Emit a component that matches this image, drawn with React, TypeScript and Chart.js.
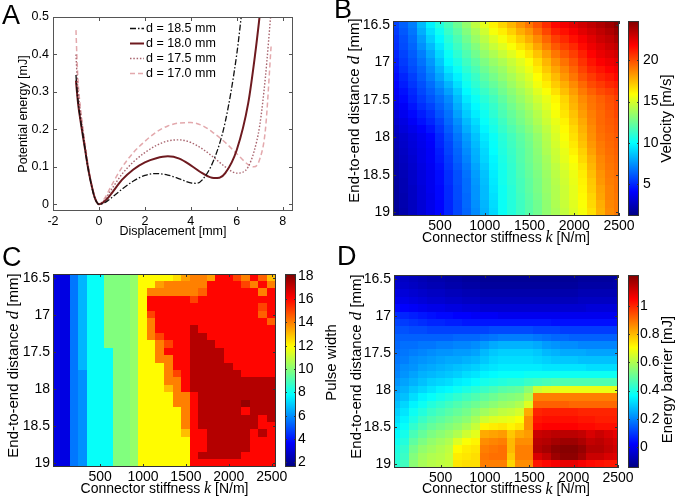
import React, { useEffect, useRef } from "react";
import { Chart, registerables } from "chart.js";

Chart.register(...registerables);

const SANS = "'Liberation Sans', Arial, Helvetica, sans-serif";
const SERIF = "'Liberation Serif', 'DejaVu Serif', 'Times New Roman', serif";

// ---------------- Panel A: potential energy curves ----------------
const A_X_TICKS = [-2, 0, 2, 4, 6, 8];
const A_Y_TICKS = [0, 0.1, 0.2, 0.3, 0.4, 0.5];
const A_LABELS = ["d = 18.5 mm", "d = 18.0 mm", "d = 17.5 mm", "d = 17.0 mm"];
const A_COLORS = ["#111111", "#6e1a1f", "#a8646e", "#e3a9ad"];

const A_X_185 = [-1.0, -0.95, -0.9, -0.8, -0.7, -0.6, -0.5, -0.4, -0.3, -0.2, -0.1, 0, 0.25, 0.5, 1.0, 1.5, 2.0, 2.5, 3.0, 3.5, 4.0, 4.25, 4.5, 5.0, 5.5, 6.0, 6.25];
const A_Y_185 = [0.345, 0.3, 0.27, 0.225, 0.185, 0.145, 0.105, 0.072, 0.043, 0.02, 0.006, 0, 0.004, 0.015, 0.04, 0.062, 0.077, 0.082, 0.078, 0.068, 0.057, 0.056, 0.065, 0.118, 0.22, 0.4, 0.53];

const A_X_180 = [-1.0, -0.95, -0.9, -0.8, -0.7, -0.6, -0.5, -0.4, -0.3, -0.2, -0.1, 0, 0.25, 0.5, 1.0, 1.5, 2.0, 2.5, 3.0, 3.5, 4.0, 4.5, 5.0, 5.25, 5.5, 6.0, 6.5, 6.8, 7.05];
const A_Y_180 = [0.33, 0.295, 0.265, 0.222, 0.183, 0.145, 0.106, 0.073, 0.045, 0.021, 0.006, 0, 0.008, 0.025, 0.065, 0.093, 0.112, 0.123, 0.128, 0.122, 0.104, 0.083, 0.07, 0.071, 0.083, 0.145, 0.27, 0.4, 0.53];

const A_X_175 = [-1.0, -0.95, -0.9, -0.8, -0.7, -0.6, -0.5, -0.4, -0.3, -0.2, -0.1, 0, 0.25, 0.5, 1.0, 1.5, 2.0, 2.5, 3.0, 3.5, 4.0, 4.5, 5.0, 5.5, 6.0, 6.25, 6.5, 6.75, 7.0, 7.25, 7.5];
const A_Y_175 = [0.4, 0.34, 0.3, 0.243, 0.197, 0.154, 0.112, 0.076, 0.046, 0.022, 0.006, 0, 0.012, 0.035, 0.08, 0.113, 0.138, 0.157, 0.169, 0.172, 0.165, 0.148, 0.125, 0.1, 0.083, 0.085, 0.1, 0.14, 0.21, 0.34, 0.52];

const A_X_170 = [-1.0, -0.95, -0.9, -0.8, -0.7, -0.6, -0.5, -0.4, -0.3, -0.2, -0.1, 0, 0.25, 0.5, 1.0, 1.5, 2.0, 2.5, 3.0, 3.5, 4.0, 4.5, 5.0, 5.5, 6.0, 6.5, 6.75, 7.0, 7.25, 7.5];
const A_Y_170 = [0.465, 0.38, 0.32, 0.255, 0.205, 0.16, 0.116, 0.079, 0.048, 0.023, 0.006, 0, 0.016, 0.045, 0.098, 0.138, 0.168, 0.193, 0.209, 0.217, 0.218, 0.21, 0.19, 0.165, 0.135, 0.106, 0.1, 0.12, 0.2, 0.425];

// ---------------- Heat maps (B, C, D) ----------------
const K_COLS = [0, 100, 200, 300, 400, 500, 600, 700, 800, 900, 1000, 1100, 1200, 1300, 1400, 1500, 1600, 1700, 1800, 1900, 2000, 2100, 2200, 2300, 2400, 2500];
const D_ROWS = [16.5, 16.6, 16.7, 16.8, 16.9, 17.0, 17.1, 17.2, 17.3, 17.4, 17.5, 17.6, 17.7, 17.8, 17.9, 18.0, 18.1, 18.2, 18.3, 18.4, 18.5, 18.6, 18.7, 18.8, 18.9, 19.0];
const K_TICKS = [500, 1000, 1500, 2000, 2500];
const D_TICKS = [16.5, 17, 17.5, 18, 18.5, 19];

const B_CB_TICKS = [5, 10, 15, 20];
const C_CB_TICKS = [2, 4, 6, 8, 10, 12, 14, 16, 18];
const D_CB_TICKS = [0, 0.2, 0.4, 0.6, 0.8, 1];

// Velocity [m/s]
const B_VELOCITY = [
  [5.6, 6.3, 7.0, 8.4, 9.7, 10.7, 11.6, 12.5, 13.4, 14.4, 15.3, 16.2, 16.9, 17.6, 18.4, 19.1, 19.9, 20.8, 21.7, 22.1, 22.5, 22.9, 23.3, 23.7, 24.1, 24.6],
  [5.4, 6.1, 6.8, 8.1, 9.3, 10.3, 11.3, 12.1, 13.0, 13.9, 14.8, 15.7, 16.3, 17.0, 17.8, 18.4, 19.3, 20.2, 21.1, 21.5, 22.0, 22.5, 22.9, 23.3, 23.7, 24.2],
  [5.2, 5.9, 6.6, 7.7, 8.9, 9.9, 10.9, 11.7, 12.6, 13.5, 14.3, 15.1, 15.7, 16.4, 17.1, 17.8, 18.6, 19.5, 20.4, 20.9, 21.5, 22.0, 22.5, 23.0, 23.3, 23.8],
  [5.1, 5.8, 6.4, 7.4, 8.4, 9.5, 10.6, 11.4, 12.2, 13.0, 13.9, 14.6, 15.2, 15.8, 16.5, 17.1, 18.0, 18.9, 19.8, 20.4, 20.9, 21.6, 22.2, 22.6, 23.0, 23.3],
  [4.9, 5.6, 6.2, 7.0, 8.0, 9.1, 10.2, 11.0, 11.8, 12.6, 13.4, 14.0, 14.6, 15.2, 15.8, 16.5, 17.3, 18.2, 19.1, 19.8, 20.4, 21.1, 21.8, 22.3, 22.6, 22.9],
  [4.7, 5.4, 6.0, 6.7, 7.6, 8.7, 9.9, 10.6, 11.4, 12.1, 12.9, 13.5, 14.0, 14.6, 15.2, 15.8, 16.7, 17.6, 18.5, 19.2, 19.9, 20.7, 21.4, 21.9, 22.2, 22.5],
  [4.5, 5.2, 5.8, 6.4, 7.3, 8.3, 9.4, 10.2, 11.0, 11.7, 12.5, 13.1, 13.6, 14.3, 14.9, 15.5, 16.3, 17.2, 18.0, 18.7, 19.5, 20.3, 21.0, 21.4, 21.8, 22.1],
  [4.3, 4.9, 5.5, 6.2, 7.0, 7.9, 8.9, 9.7, 10.6, 11.3, 12.1, 12.7, 13.3, 13.9, 14.5, 15.1, 15.9, 16.7, 17.5, 18.3, 19.1, 19.9, 20.5, 21.0, 21.3, 21.7],
  [4.1, 4.7, 5.3, 5.9, 6.6, 7.4, 8.3, 9.3, 10.3, 11.0, 11.7, 12.3, 12.9, 13.6, 14.2, 14.8, 15.6, 16.3, 17.1, 17.8, 18.6, 19.4, 20.1, 20.5, 20.9, 21.2],
  [3.9, 4.4, 5.0, 5.7, 6.3, 7.0, 7.8, 8.8, 9.9, 10.6, 11.3, 11.9, 12.6, 13.2, 13.8, 14.4, 15.2, 15.8, 16.6, 17.4, 18.2, 19.0, 19.6, 20.1, 20.4, 20.8],
  [3.7, 4.2, 4.8, 5.4, 6.0, 6.6, 7.3, 8.4, 9.5, 10.2, 10.9, 11.5, 12.2, 12.9, 13.5, 14.1, 14.8, 15.4, 16.1, 16.9, 17.8, 18.6, 19.2, 19.6, 20.0, 20.4],
  [3.5, 3.9, 4.5, 5.1, 5.6, 6.3, 7.0, 8.1, 9.1, 9.9, 10.6, 11.2, 11.9, 12.6, 13.2, 13.8, 14.5, 15.2, 15.9, 16.7, 17.6, 18.4, 19.1, 19.5, 19.9, 20.3],
  [3.2, 3.7, 4.2, 4.7, 5.2, 6.0, 6.7, 7.8, 8.8, 9.6, 10.3, 11.0, 11.7, 12.3, 12.9, 13.5, 14.2, 14.9, 15.7, 16.5, 17.3, 18.2, 18.9, 19.4, 19.8, 20.2],
  [3.0, 3.4, 3.9, 4.4, 4.9, 5.6, 6.5, 7.4, 8.4, 9.2, 10.1, 10.7, 11.4, 12.1, 12.7, 13.3, 14.0, 14.7, 15.4, 16.2, 17.1, 17.9, 18.8, 19.4, 19.7, 20.0],
  [2.7, 3.2, 3.6, 4.0, 4.5, 5.3, 6.2, 7.1, 8.1, 8.9, 9.8, 10.5, 11.2, 11.8, 12.4, 13.0, 13.7, 14.4, 15.2, 16.0, 16.8, 17.7, 18.6, 19.3, 19.6, 19.9],
  [2.5, 2.9, 3.3, 3.7, 4.1, 5.0, 5.9, 6.8, 7.7, 8.6, 9.5, 10.2, 10.9, 11.5, 12.1, 12.7, 13.4, 14.2, 15.0, 15.8, 16.6, 17.5, 18.5, 19.2, 19.5, 19.8],
  [2.4, 2.8, 3.2, 3.6, 4.0, 4.9, 5.7, 6.6, 7.5, 8.4, 9.3, 10.1, 10.8, 11.4, 12.0, 12.6, 13.3, 14.1, 14.9, 15.6, 16.4, 17.3, 18.3, 19.0, 19.4, 19.7],
  [2.3, 2.7, 3.1, 3.5, 3.9, 4.7, 5.6, 6.4, 7.3, 8.2, 9.1, 10.0, 10.7, 11.3, 11.9, 12.5, 13.2, 14.0, 14.7, 15.4, 16.2, 17.0, 18.1, 18.9, 19.3, 19.6],
  [2.2, 2.6, 3.0, 3.5, 3.9, 4.6, 5.4, 6.3, 7.1, 8.1, 9.0, 9.8, 10.6, 11.2, 11.9, 12.5, 13.1, 13.8, 14.6, 15.3, 15.9, 16.8, 17.8, 18.7, 19.2, 19.5],
  [2.1, 2.5, 2.9, 3.4, 3.8, 4.4, 5.3, 6.1, 6.9, 7.9, 8.8, 9.7, 10.5, 11.1, 11.8, 12.4, 13.0, 13.7, 14.4, 15.1, 15.7, 16.5, 17.6, 18.6, 19.1, 19.4],
  [2.0, 2.4, 2.8, 3.3, 3.7, 4.3, 5.1, 5.9, 6.7, 7.7, 8.6, 9.6, 10.4, 11.0, 11.7, 12.3, 12.9, 13.6, 14.3, 14.9, 15.5, 16.3, 17.4, 18.4, 19.0, 19.3],
  [1.9, 2.3, 2.8, 3.3, 3.7, 4.3, 5.1, 5.9, 6.6, 7.6, 8.5, 9.5, 10.4, 11.0, 11.6, 12.2, 12.8, 13.5, 14.2, 14.8, 15.4, 16.2, 17.2, 18.3, 18.9, 19.2],
  [1.8, 2.3, 2.7, 3.2, 3.7, 4.2, 5.0, 5.8, 6.6, 7.5, 8.4, 9.4, 10.3, 10.9, 11.6, 12.2, 12.8, 13.5, 14.1, 14.7, 15.3, 16.1, 17.1, 18.1, 18.8, 19.2],
  [1.8, 2.2, 2.7, 3.2, 3.6, 4.2, 5.0, 5.8, 6.5, 7.5, 8.4, 9.3, 10.3, 10.9, 11.5, 12.1, 12.7, 13.4, 14.1, 14.7, 15.3, 16.0, 16.9, 18.0, 18.8, 19.1],
  [1.7, 2.2, 2.6, 3.1, 3.6, 4.1, 4.9, 5.7, 6.5, 7.4, 8.3, 9.2, 10.2, 10.8, 11.4, 12.0, 12.6, 13.3, 14.0, 14.6, 15.2, 15.8, 16.8, 17.8, 18.7, 19.0],
  [1.6, 2.1, 2.6, 3.1, 3.6, 4.1, 4.9, 5.7, 6.4, 7.3, 8.2, 9.1, 10.2, 10.8, 11.4, 12.0, 12.6, 13.3, 13.9, 14.5, 15.1, 15.7, 16.6, 17.7, 18.6, 19.0],
];

// Pulse width
const C_PULSE = [
  [3.2, 3.2, 5.6, 6.6, 7.9, 7.9, 9.9, 9.9, 9.9, 10.2, 12, 12, 12, 12, 12.5, 13.5, 14, 14, 13.5, 16, 16, 15, 14, 16, 14.5, 13],
  [3.2, 3.2, 5.6, 6.6, 7.9, 7.9, 9.9, 9.9, 9.9, 10.2, 12, 12, 13.5, 14, 14, 14, 14, 14, 16, 16, 16, 16, 15, 14, 16, 14],
  [3.2, 3.2, 5.6, 6.6, 7.9, 7.9, 9.9, 9.9, 9.9, 10.2, 12, 14, 14, 14, 14, 14, 14, 14.5, 16, 16, 16, 16, 16, 16, 14, 16],
  [3.2, 3.2, 5.6, 6.6, 7.9, 7.9, 9.9, 9.9, 9.9, 10.2, 12, 16, 16, 16, 16, 16, 15, 16, 16, 16, 16, 16, 16, 16, 16, 16],
  [3.2, 3.2, 5.6, 6.6, 7.9, 7.9, 9.9, 9.9, 9.9, 10.2, 12, 16, 16, 16, 16, 16, 16, 16, 16, 16, 16, 16, 16, 16, 15, 16],
  [3.2, 3.2, 5.6, 6.6, 7.9, 7.9, 9.9, 9.9, 9.9, 10.2, 12, 15, 16, 16, 16, 16, 16, 16, 16, 16, 16, 16, 16, 16, 14.5, 16],
  [3.2, 3.2, 5.6, 6.6, 7.9, 7.9, 9.9, 9.9, 9.9, 10.2, 12, 14, 16, 16, 16, 16, 16, 16, 16, 16, 16, 16, 16, 16, 16, 14.5],
  [3.2, 3.2, 5.6, 6.6, 7.9, 7.9, 9.9, 9.9, 9.9, 10.2, 12, 14, 16, 16, 16, 16, 17.3, 16, 16, 16, 16, 16, 16, 16, 16, 16],
  [3.2, 3.2, 5.6, 6.6, 7.9, 7.9, 9.9, 9.9, 9.9, 10.2, 12, 14, 15, 16, 16, 16, 17.3, 17.3, 16, 16, 16, 16, 16, 16, 16, 16],
  [3.2, 3.2, 5.6, 6.6, 7.9, 7.9, 9.9, 9.9, 9.9, 10.2, 12, 12, 14, 15, 16, 16, 17.3, 17.3, 17.3, 16, 16, 16, 16, 16, 16, 16],
  [3.2, 3.2, 5.6, 6.6, 7.9, 7.9, 7.9, 9.9, 9.9, 10.2, 12, 12, 14, 16, 16, 16, 17.3, 17.3, 17.3, 17.3, 16, 16, 16, 16, 16, 16],
  [3.2, 3.2, 5.6, 6.6, 7.9, 7.9, 7.9, 9.9, 9.9, 10.2, 12, 12, 14, 14, 16, 16, 17.3, 17.3, 17.3, 17.3, 16, 16, 16, 16, 16, 16],
  [3.2, 3.2, 5.6, 6.6, 7.9, 7.9, 7.9, 9.9, 9.9, 10.2, 12, 12, 12, 14, 16, 16, 17.3, 17.3, 17.3, 17.3, 17.3, 16, 16, 16, 16, 16],
  [3.2, 3.2, 5.6, 6.0, 7.9, 7.9, 7.9, 9.9, 9.9, 10.2, 12, 12, 12, 14, 15, 16, 17.3, 17.3, 17.3, 17.3, 17.3, 17.3, 16, 16, 16, 16],
  [3.2, 3.2, 5.6, 6.0, 7.9, 7.9, 7.9, 9.9, 9.9, 10.2, 12, 12, 12, 14, 14, 16, 17.3, 17.3, 17.3, 17.3, 17.3, 17.3, 17.3, 17.3, 17.3, 17.3],
  [3.2, 3.2, 5.6, 6.0, 7.9, 7.9, 7.9, 9.9, 9.9, 10.2, 12, 12, 12, 13, 14, 16, 17.3, 17.3, 17.3, 17.3, 17.3, 17.3, 17.3, 17.3, 17.3, 17.3],
  [3.2, 3.2, 5.6, 6.0, 7.9, 7.9, 7.9, 9.9, 9.9, 10.2, 12, 12, 12, 12, 14, 14, 16, 17.3, 17.3, 17.3, 17.3, 17.3, 17.3, 17.3, 17.3, 17.3],
  [3.2, 3.2, 5.6, 6.0, 7.9, 7.9, 7.9, 9.9, 9.9, 10.2, 12, 12, 12, 12, 14, 14, 16, 17.3, 17.3, 17.3, 17.3, 17.3, 17.8, 17.3, 17.3, 17.3],
  [3.2, 3.2, 5.6, 6.0, 7.9, 7.9, 7.9, 9.9, 9.9, 10.2, 12, 12, 12, 12, 12, 14, 16, 17.3, 17.3, 17.3, 17.3, 17.3, 16, 17.3, 17.3, 17.3],
  [3.2, 3.2, 5.6, 6.0, 7.9, 7.9, 7.9, 9.9, 9.9, 10.2, 12, 12, 12, 12, 12, 14, 16, 17.3, 17.3, 17.3, 17.3, 17.3, 17.3, 17.3, 16, 17.3],
  [3.2, 3.2, 5.6, 6.0, 7.9, 7.9, 7.9, 9.9, 9.9, 10.2, 12, 12, 12, 12, 12, 14, 16, 17.3, 17.3, 17.3, 17.3, 17.3, 17.3, 17.3, 16, 16],
  [3.2, 3.2, 5.6, 6.0, 7.9, 7.9, 7.9, 9.9, 9.9, 10.2, 12, 12, 12, 12, 12, 13, 16, 16, 17.3, 17.3, 17.3, 17.3, 17.3, 16, 17.3, 16],
  [3.2, 3.2, 5.6, 6.0, 7.9, 7.9, 7.9, 9.9, 9.9, 10.2, 12, 12, 12, 12, 12, 12, 16, 16, 17.3, 17.3, 17.3, 17.3, 17.3, 16, 16, 16],
  [3.2, 3.2, 5.6, 6.0, 7.9, 7.9, 7.9, 9.9, 9.9, 10.2, 12, 12, 12, 12, 12, 12, 16, 16, 17.3, 17.3, 17.3, 17.3, 17.3, 16, 16, 16],
  [3.2, 3.2, 5.6, 6.0, 7.9, 7.9, 7.9, 9.9, 9.9, 10.2, 12, 12, 12, 12, 12, 12, 16, 17.3, 17.3, 17.3, 17.3, 17.3, 16, 16, 16, 16],
  [3.2, 3.2, 5.6, 6.0, 7.9, 7.9, 7.9, 9.9, 9.9, 10.2, 12, 12, 12, 12, 12, 12, 16, 16, 16, 16, 16, 16, 16, 16, 16, 16],
];

// Energy barrier [mJ]
const D_BARRIER = [
  [-0.05, -0.06, -0.07, -0.08, -0.09, -0.09, -0.10, -0.10, -0.11, -0.11, -0.12, -0.12, -0.12, -0.12, -0.12, -0.12, -0.12, -0.12, -0.12, -0.12, -0.12, -0.11, -0.11, -0.11, -0.11, -0.10],
  [-0.04, -0.05, -0.06, -0.07, -0.08, -0.08, -0.09, -0.09, -0.10, -0.10, -0.11, -0.11, -0.11, -0.11, -0.11, -0.11, -0.11, -0.11, -0.11, -0.11, -0.11, -0.10, -0.10, -0.10, -0.10, -0.09],
  [-0.02, -0.03, -0.04, -0.05, -0.06, -0.06, -0.07, -0.07, -0.08, -0.08, -0.09, -0.09, -0.09, -0.09, -0.09, -0.09, -0.09, -0.09, -0.09, -0.09, -0.09, -0.08, -0.08, -0.08, -0.08, -0.08],
  [0.0, -0.01, -0.02, -0.03, -0.04, -0.04, -0.05, -0.05, -0.06, -0.06, -0.07, -0.07, -0.07, -0.07, -0.07, -0.07, -0.07, -0.07, -0.07, -0.07, -0.07, -0.06, -0.06, -0.06, -0.06, -0.06],
  [0.03, 0.02, 0.01, 0.0, -0.01, -0.01, -0.02, -0.02, -0.03, -0.03, -0.04, -0.04, -0.04, -0.04, -0.04, -0.04, -0.04, -0.04, -0.04, -0.04, -0.04, -0.04, -0.03, -0.03, -0.03, -0.03],
  [0.08, 0.07, 0.06, 0.05, 0.04, 0.03, 0.03, 0.02, 0.02, 0.01, 0.01, 0.01, 0.0, 0.0, 0.0, 0.0, 0.0, 0.0, 0.0, 0.0, 0.0, 0.0, 0.0, 0.0, 0.0, 0.0],
  [0.11, 0.10, 0.09, 0.08, 0.07, 0.07, 0.06, 0.06, 0.05, 0.05, 0.05, 0.05, 0.05, 0.05, 0.05, 0.05, 0.05, 0.05, 0.04, 0.04, 0.04, 0.04, 0.04, 0.04, 0.04, 0.04],
  [0.13, 0.13, 0.12, 0.12, 0.11, 0.11, 0.11, 0.11, 0.11, 0.11, 0.11, 0.12, 0.12, 0.12, 0.12, 0.12, 0.11, 0.11, 0.11, 0.10, 0.10, 0.10, 0.10, 0.10, 0.10, 0.10],
  [0.15, 0.15, 0.15, 0.15, 0.15, 0.15, 0.15, 0.16, 0.16, 0.16, 0.17, 0.18, 0.19, 0.19, 0.19, 0.19, 0.18, 0.17, 0.16, 0.16, 0.15, 0.15, 0.15, 0.15, 0.15, 0.15],
  [0.16, 0.17, 0.17, 0.18, 0.18, 0.19, 0.19, 0.20, 0.20, 0.21, 0.23, 0.25, 0.26, 0.26, 0.26, 0.26, 0.25, 0.23, 0.22, 0.21, 0.21, 0.20, 0.20, 0.20, 0.20, 0.20],
  [0.17, 0.18, 0.19, 0.20, 0.21, 0.22, 0.22, 0.23, 0.23, 0.24, 0.27, 0.29, 0.30, 0.30, 0.30, 0.30, 0.29, 0.27, 0.26, 0.25, 0.25, 0.25, 0.24, 0.24, 0.24, 0.24],
  [0.18, 0.19, 0.21, 0.22, 0.23, 0.24, 0.25, 0.25, 0.26, 0.27, 0.29, 0.31, 0.32, 0.32, 0.32, 0.32, 0.31, 0.30, 0.29, 0.29, 0.29, 0.28, 0.28, 0.28, 0.28, 0.28],
  [0.19, 0.21, 0.22, 0.24, 0.25, 0.26, 0.27, 0.28, 0.29, 0.30, 0.32, 0.33, 0.34, 0.34, 0.34, 0.34, 0.34, 0.33, 0.33, 0.33, 0.33, 0.33, 0.32, 0.32, 0.32, 0.32],
  [0.20, 0.22, 0.24, 0.26, 0.27, 0.28, 0.29, 0.30, 0.32, 0.33, 0.35, 0.36, 0.37, 0.37, 0.37, 0.38, 0.38, 0.38, 0.38, 0.38, 0.38, 0.38, 0.38, 0.38, 0.38, 0.38],
  [0.22, 0.24, 0.26, 0.28, 0.30, 0.31, 0.32, 0.34, 0.35, 0.37, 0.39, 0.40, 0.41, 0.42, 0.42, 0.44, 0.45, 0.46, 0.47, 0.47, 0.47, 0.47, 0.47, 0.47, 0.47, 0.47],
  [0.24, 0.26, 0.29, 0.31, 0.33, 0.35, 0.36, 0.38, 0.40, 0.42, 0.44, 0.46, 0.48, 0.49, 0.50, 0.55, 0.64, 0.66, 0.67, 0.68, 0.68, 0.68, 0.68, 0.68, 0.68, 0.68],
  [0.26, 0.28, 0.32, 0.35, 0.37, 0.39, 0.41, 0.43, 0.45, 0.47, 0.49, 0.51, 0.53, 0.54, 0.55, 0.60, 0.88, 0.88, 0.88, 0.88, 0.88, 0.88, 0.88, 0.88, 0.88, 0.88],
  [0.28, 0.31, 0.35, 0.38, 0.41, 0.43, 0.45, 0.47, 0.49, 0.51, 0.53, 0.55, 0.57, 0.58, 0.60, 0.66, 0.92, 0.92, 0.92, 0.92, 0.91, 0.91, 0.91, 0.91, 0.91, 0.91],
  [0.30, 0.33, 0.38, 0.41, 0.44, 0.46, 0.48, 0.50, 0.52, 0.55, 0.58, 0.60, 0.62, 0.63, 0.65, 0.82, 1.00, 1.01, 1.01, 1.01, 1.01, 1.00, 1.00, 1.00, 1.00, 1.00],
  [0.32, 0.35, 0.40, 0.44, 0.47, 0.49, 0.51, 0.53, 0.55, 0.59, 0.64, 0.66, 0.67, 0.68, 0.70, 0.86, 1.02, 1.03, 1.03, 1.03, 1.03, 1.02, 1.02, 1.01, 1.01, 1.01],
  [0.34, 0.37, 0.43, 0.47, 0.50, 0.52, 0.54, 0.56, 0.59, 0.63, 0.72, 0.73, 0.74, 0.72, 0.74, 0.86, 1.04, 1.05, 1.05, 1.05, 1.05, 1.04, 1.04, 1.03, 1.03, 1.03],
  [0.36, 0.39, 0.46, 0.50, 0.53, 0.55, 0.57, 0.60, 0.64, 0.67, 0.82, 0.83, 0.84, 0.78, 0.82, 0.84, 1.12, 1.13, 1.14, 1.14, 1.14, 1.13, 1.10, 1.12, 1.10, 1.08],
  [0.38, 0.41, 0.49, 0.53, 0.56, 0.58, 0.60, 0.66, 0.70, 0.72, 0.86, 0.87, 0.88, 0.80, 0.86, 0.86, 1.14, 1.15, 1.17, 1.18, 1.18, 1.16, 1.13, 1.14, 1.12, 1.10],
  [0.40, 0.43, 0.52, 0.56, 0.58, 0.60, 0.62, 0.71, 0.73, 0.74, 0.88, 0.89, 0.90, 0.80, 0.88, 0.88, 1.15, 1.17, 1.20, 1.21, 1.21, 1.19, 1.15, 1.15, 1.13, 1.11],
  [0.41, 0.44, 0.54, 0.58, 0.60, 0.61, 0.63, 0.73, 0.74, 0.75, 0.89, 0.90, 0.90, 0.78, 0.88, 0.88, 1.10, 1.13, 1.18, 1.20, 1.20, 1.17, 1.12, 1.12, 1.10, 1.09],
  [0.42, 0.45, 0.55, 0.59, 0.61, 0.62, 0.63, 0.74, 0.75, 0.75, 0.88, 0.88, 0.88, 0.76, 0.86, 0.86, 1.02, 1.04, 1.06, 1.08, 1.08, 1.06, 1.04, 1.03, 1.02, 1.02],
];

// ---------------- helpers ----------------
function jet(t: number): string {
  const tt = Math.max(0, Math.min(1, t));
  const c = (v: number) => Math.round(255 * Math.max(0, Math.min(1, v)));
  return `rgb(${c(1.5 - Math.abs(4 * tt - 3))},${c(1.5 - Math.abs(4 * tt - 2))},${c(1.5 - Math.abs(4 * tt - 1))})`;
}

type Seg = { t: string; f: string };
function drawRich(ctx: CanvasRenderingContext2D, segs: Seg[], cx: number, cy: number, rot: number) {
  ctx.save();
  ctx.translate(cx, cy);
  if (rot) ctx.rotate(rot);
  let total = 0;
  const widths = segs.map((s) => {
    ctx.font = s.f;
    const w = ctx.measureText(s.t).width;
    total += w;
    return w;
  });
  let x = -total / 2;
  ctx.textBaseline = "middle";
  ctx.textAlign = "left";
  ctx.fillStyle = "#000";
  segs.forEach((s, i) => {
    ctx.font = s.f;
    ctx.fillText(s.t, x, 0);
    x += widths[i];
  });
  ctx.restore();
}

const zeroPad = (sc: any) => {
  sc.paddingLeft = 0;
  sc.paddingRight = 0;
  sc.paddingTop = 0;
  sc.paddingBottom = 0;
};

// ---------------- Panel A builder ----------------
function buildA(canvas: HTMLCanvasElement) {
  const W = 340, H = 250;
  const L = 53, T = 17, R = 293, B = 211;
  const xs = [A_X_185, A_X_180, A_X_175, A_X_170];
  const ys = [A_Y_185, A_Y_180, A_Y_175, A_Y_170];
  const widths = [1.3, 2, 1.4, 1.5];
  const dashes = [[6, 2, 1.5, 2], [], [1.5, 1.8], [5, 3]];
  const datasets = A_LABELS.map((label, i) => ({
    label,
    data: xs[i].map((x, j) => ({ x, y: ys[i][j] })),
    showLine: true,
    borderColor: A_COLORS[i],
    backgroundColor: A_COLORS[i],
    borderWidth: widths[i],
    borderDash: dashes[i],
    pointRadius: 0,
    cubicInterpolationMode: "monotone",
    fill: false,
  }));
  const fontT = `12.5px ${SANS}`;
  const plugin = {
    id: "panelA",
    afterDraw(chart: any) {
      const { ctx, chartArea: a, scales } = chart;
      ctx.save();
      ctx.strokeStyle = "#555";
      ctx.lineWidth = 1;
      ctx.strokeRect(a.left + 0.5, a.top + 0.5, a.right - a.left - 1, a.bottom - a.top - 1);
      ctx.beginPath();
      A_X_TICKS.forEach((v) => {
        const x = Math.round(scales.x.getPixelForValue(v)) + 0.5;
        ctx.moveTo(x, a.bottom); ctx.lineTo(x, a.bottom - 4);
        ctx.moveTo(x, a.top); ctx.lineTo(x, a.top + 4);
      });
      A_Y_TICKS.forEach((v) => {
        const y = Math.round(scales.y.getPixelForValue(v)) + 0.5;
        ctx.moveTo(a.left, y); ctx.lineTo(a.left + 4, y);
        ctx.moveTo(a.right, y); ctx.lineTo(a.right - 4, y);
      });
      ctx.stroke();
      chart.data.datasets.forEach((ds: any, i: number) => {
        const y = 28.5 + 15 * i;
        ctx.beginPath();
        ctx.strokeStyle = ds.borderColor;
        ctx.lineWidth = ds.borderWidth;
        ctx.setLineDash(ds.borderDash || []);
        ctx.moveTo(130, y); ctx.lineTo(144, y);
        ctx.stroke();
        ctx.setLineDash([]);
        ctx.fillStyle = "#000";
        ctx.font = fontT;
        ctx.textBaseline = "middle";
        ctx.textAlign = "left";
        ctx.fillText(ds.label, 146, y);
      });
      ctx.restore();
      drawRich(ctx, [{ t: "Potential energy [mJ]", f: fontT }], 24, (a.top + a.bottom) / 2, -Math.PI / 2);
      drawRich(ctx, [{ t: "Displacement [mm]", f: fontT }], (a.left + a.right) / 2, 232, 0);
    },
  };
  const tickFont = { family: SANS, size: 12.5 };
  return new Chart(canvas, {
    type: "scatter",
    data: { datasets },
    options: {
      responsive: false,
      animation: false,
      events: [],
      layout: { padding: { left: 0, top: T, right: W - R, bottom: 0 } },
      plugins: { legend: { display: false }, tooltip: { enabled: false } },
      scales: {
        x: {
          type: "linear", min: -2, max: 8.45,
          grid: { display: false, drawTicks: false }, border: { display: false },
          ticks: { font: tickFont, color: "#000", padding: 3, maxRotation: 0, minRotation: 0, autoSkip: false, callback: (v: any) => String(v) },
          afterBuildTicks: (sc: any) => { sc.ticks = A_X_TICKS.map((v) => ({ value: v })); },
          afterFit: (sc: any) => { sc.height = H - B; zeroPad(sc); },
        },
        y: {
          type: "linear", min: -0.018, max: 0.5,
          grid: { display: false, drawTicks: false }, border: { display: false },
          ticks: { font: tickFont, color: "#000", padding: 4, autoSkip: false, callback: (v: any) => String(v) },
          afterBuildTicks: (sc: any) => { sc.ticks = A_Y_TICKS.map((v) => ({ value: v })); },
          afterFit: (sc: any) => { sc.width = L; zeroPad(sc); },
        },
      },
    },
    plugins: [plugin],
  } as any);
}

// ---------------- Heat map builder ----------------
type HeatSpec = {
  values: number[][];
  xMin: number; xMax: number;
  cMin: number; cMax: number; cTicks: number[]; cbTitle: string;
  w: number; h: number; area: number[];
  cbGap: number; cbWidth: number; cbPad: number;
  yTitleX: number; yTitleDy: number; xTitleY: number; cbTitleX: number; cbTitleDy: number;
};

function buildHeat(canvas: HTMLCanvasElement, s: HeatSpec) {
  const [L, T, R, B] = s.area;
  const tickFont = { family: SANS, size: 14 };
  const fH = `14px ${SANS}`;
  const fV = `15px ${SANS}`;
  const fHi = `italic 16px ${SERIF}`;
  const fVi = `italic 17px ${SERIF}`;
  const norm = (v: number) => (v - s.cMin) / (s.cMax - s.cMin);
  const plugin = {
    id: "heat",
    beforeDatasetsDraw(chart: any) {
      const { ctx, chartArea: a, scales } = chart;
      const xs = scales.x, ys = scales.y, cs = scales.cb;
      const hk = (K_COLS[1] - K_COLS[0]) / 2;
      const hd = (D_ROWS[1] - D_ROWS[0]) / 2;
      ctx.save();
      ctx.beginPath();
      ctx.rect(a.left, a.top, a.right - a.left, a.bottom - a.top);
      ctx.clip();
      D_ROWS.forEach((d, j) => {
        const yA = ys.getPixelForValue(d - hd), yB = ys.getPixelForValue(d + hd);
        K_COLS.forEach((k, i) => {
          const xA = xs.getPixelForValue(k - hk), xB = xs.getPixelForValue(k + hk);
          ctx.fillStyle = jet(norm(s.values[j][i]));
          const x0 = Math.floor(Math.min(xA, xB)), y0 = Math.floor(Math.min(yA, yB));
          ctx.fillRect(x0, y0, Math.ceil(Math.max(xA, xB)) - x0 + 1, Math.ceil(Math.max(yA, yB)) - y0 + 1);
        });
      });
      ctx.restore();
      const bx = a.right + s.cbGap;
      for (let py = Math.floor(cs.top); py < cs.bottom; py += 1) {
        ctx.fillStyle = jet(norm(cs.getValueForPixel(py + 0.5)));
        ctx.fillRect(bx, py, s.cbWidth, 1);
      }
    },
    afterDraw(chart: any) {
      const { ctx, chartArea: a, scales } = chart;
      ctx.save();
      ctx.strokeStyle = "#333";
      ctx.lineWidth = 1;
      ctx.strokeRect(a.left + 0.5, a.top + 0.5, a.right - a.left - 1, a.bottom - a.top - 1);
      ctx.beginPath();
      K_TICKS.forEach((v) => {
        const x = Math.round(scales.x.getPixelForValue(v)) + 0.5;
        ctx.moveTo(x, a.bottom); ctx.lineTo(x, a.bottom - 3);
        ctx.moveTo(x, a.top); ctx.lineTo(x, a.top + 3);
      });
      D_TICKS.forEach((v) => {
        const y = Math.round(scales.y.getPixelForValue(v)) + 0.5;
        ctx.moveTo(a.left, y); ctx.lineTo(a.left + 3, y);
        ctx.moveTo(a.right, y); ctx.lineTo(a.right - 3, y);
      });
      ctx.stroke();
      const bx = a.right + s.cbGap;
      ctx.strokeRect(bx + 0.5, a.top + 0.5, s.cbWidth - 1, a.bottom - a.top - 1);
      ctx.beginPath();
      s.cTicks.forEach((v) => {
        const y = Math.round(scales.cb.getPixelForValue(v)) + 0.5;
        ctx.moveTo(bx, y); ctx.lineTo(bx + 2, y);
        ctx.moveTo(bx + s.cbWidth, y); ctx.lineTo(bx + s.cbWidth - 2, y);
      });
      ctx.stroke();
      ctx.restore();
      const cy = (a.top + a.bottom) / 2;
      drawRich(ctx, [{ t: "End-to-end distance ", f: fV }, { t: "d", f: fVi }, { t: " [mm]", f: fV }], s.yTitleX, cy + s.yTitleDy, -Math.PI / 2);
      drawRich(ctx, [{ t: "Connector stiffness ", f: fH }, { t: "k", f: fHi }, { t: " [N/m]", f: fH }], (a.left + a.right) / 2, s.xTitleY, 0);
      drawRich(ctx, [{ t: s.cbTitle, f: fV }], s.cbTitleX, cy + s.cbTitleDy, -Math.PI / 2);
    },
  };
  return new Chart(canvas, {
    type: "scatter",
    data: { datasets: [] },
    options: {
      responsive: false,
      animation: false,
      events: [],
      layout: { padding: { left: 0, top: T, right: 0, bottom: 0 } },
      plugins: { legend: { display: false }, tooltip: { enabled: false } },
      scales: {
        x: {
          type: "linear", position: "bottom", min: s.xMin, max: s.xMax,
          grid: { display: false, drawTicks: false }, border: { display: false },
          ticks: { font: tickFont, color: "#000", padding: 2, maxRotation: 0, minRotation: 0, autoSkip: false, callback: (v: any) => String(v) },
          afterBuildTicks: (sc: any) => { sc.ticks = K_TICKS.map((v) => ({ value: v })); },
          afterFit: (sc: any) => { sc.height = s.h - B; zeroPad(sc); },
        },
        y: {
          type: "linear", position: "left", reverse: true, min: 16.45, max: 19.05,
          grid: { display: false, drawTicks: false }, border: { display: false },
          ticks: { font: tickFont, color: "#000", padding: 3, autoSkip: false, callback: (v: any) => String(v) },
          afterBuildTicks: (sc: any) => { sc.ticks = D_TICKS.map((v) => ({ value: v })); },
          afterFit: (sc: any) => { sc.width = L; zeroPad(sc); },
        },
        cb: {
          type: "linear", position: "right", min: s.cMin, max: s.cMax,
          grid: { display: false, drawTicks: false }, border: { display: false },
          ticks: { font: tickFont, color: "#000", padding: s.cbPad, autoSkip: false, callback: (v: any) => String(v) },
          afterBuildTicks: (sc: any) => { sc.ticks = s.cTicks.map((v) => ({ value: v })); },
          afterFit: (sc: any) => { sc.width = s.w - R; zeroPad(sc); },
        },
      },
    },
    plugins: [plugin],
  } as any);
}

function ChartBox(props: { left: number; top: number; width: number; height: number; build: (c: HTMLCanvasElement) => Chart }) {
  const ref = useRef<HTMLCanvasElement>(null);
  useEffect(() => {
    const chart = props.build(ref.current as HTMLCanvasElement);
    return () => chart.destroy();
  }, []);
  return (
    <canvas
      ref={ref}
      width={props.width}
      height={props.height}
      style={{ position: "absolute", left: props.left, top: props.top, width: props.width, height: props.height }}
    />
  );
}

const letterStyle = (left: number, top: number): any => ({
  position: "absolute",
  left,
  top,
  fontFamily: SANS,
  fontSize: 27,
  lineHeight: "27px",
  color: "#000",
});

export default function App() {
  return (
    <div style={{ position: "fixed", left: 0, top: 0, width: 677, height: 500, background: "#fff", overflow: "hidden" }}>
      <ChartBox left={0} top={0} width={340} height={250} build={buildA} />
      <ChartBox
        left={340} top={0} width={337} height={250}
        build={(c) => buildHeat(c, {
          values: B_VELOCITY, xMin: -25, xMax: 2500,
          cMin: 1.1, cMax: 24.8, cTicks: B_CB_TICKS, cbTitle: "Velocity [m/s]",
          w: 337, h: 250, area: [53, 21, 279, 216],
          cbGap: 9, cbWidth: 11, cbPad: 24,
          yTitleX: 15, yTitleDy: -8, xTitleY: 238, cbTitleX: 326.5, cbTitleDy: 0,
        })}
      />
      <ChartBox
        left={0} top={250} width={340} height={250}
        build={(c) => buildHeat(c, {
          values: C_PULSE, xMin: -50, xMax: 2550,
          cMin: 1.6, cMax: 18.15, cTicks: C_CB_TICKS, cbTitle: "Pulse width",
          w: 340, h: 250, area: [53, 24, 276, 217],
          cbGap: 9, cbWidth: 11, cbPad: 22,
          yTitleX: 14, yTitleDy: -5, xTitleY: 239, cbTitleX: 331.5, cbTitleDy: -8,
        })}
      />
      <ChartBox
        left={340} top={250} width={337} height={250}
        build={(c) => buildHeat(c, {
          values: D_BARRIER, xMin: -25, xMax: 2500,
          cMin: -0.15, cMax: 1.22, cTicks: D_CB_TICKS, cbTitle: "Energy barrier [mJ]",
          w: 337, h: 250, area: [54, 25, 278, 218],
          cbGap: 10, cbWidth: 11, cbPad: 22,
          yTitleX: 17, yTitleDy: -5, xTitleY: 239.3, cbTitleX: 328, cbTitleDy: 8,
        })}
      />
      <div style={letterStyle(2, 2)}>A</div>
      <div style={letterStyle(334, -4)}>B</div>
      <div style={letterStyle(2, 244)}>C</div>
      <div style={letterStyle(337, 243)}>D</div>
    </div>
  );
}
